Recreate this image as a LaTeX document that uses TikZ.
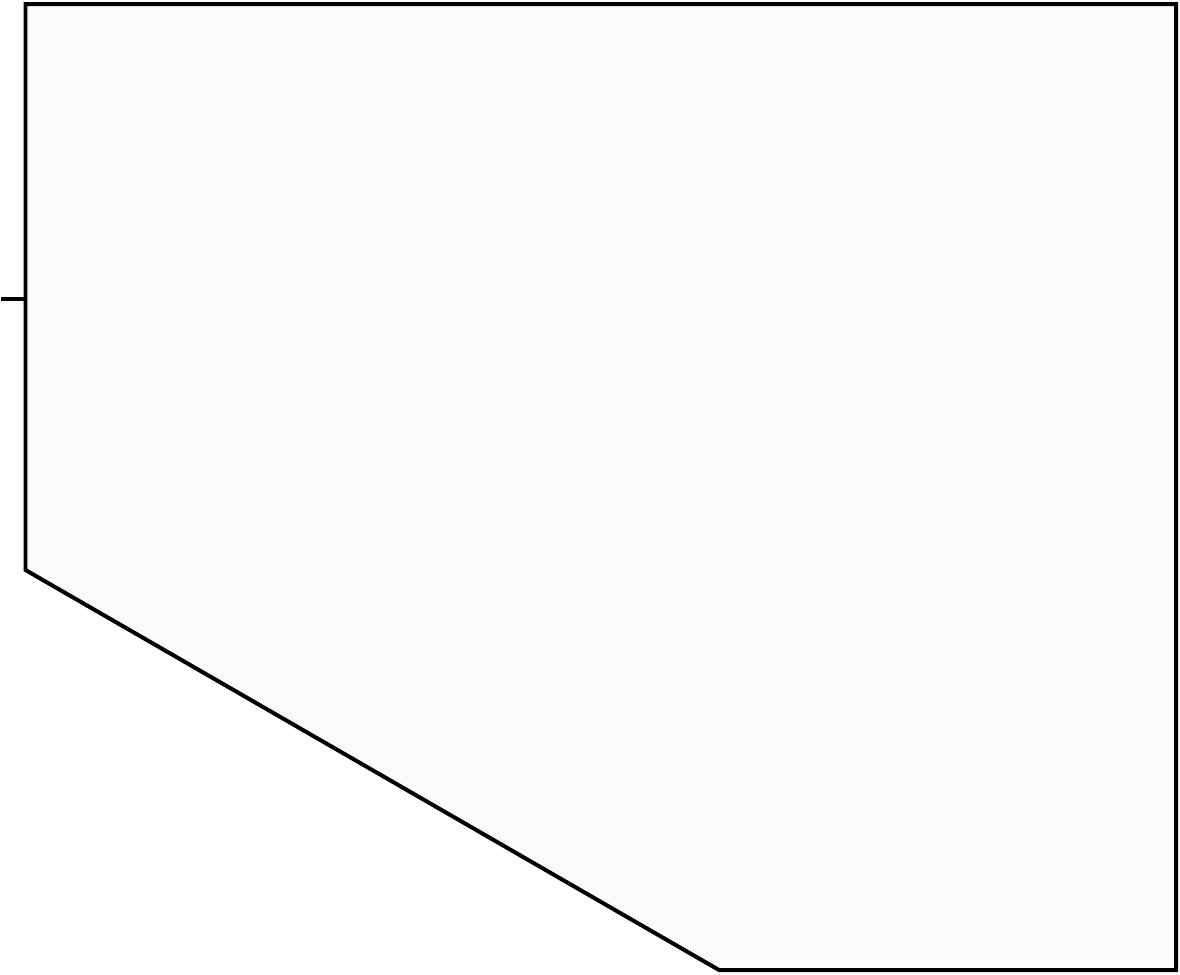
\documentclass[tikz,border=0pt]{standalone}
\usepackage{tikz}
\usetikzlibrary{positioning}
\tikzset{
outline/.style = {draw=black, line width=0.08cm, line join=miter},
body/.style = {outline, fill=black!2}
}
\begin{document}
\begin{tikzpicture}[x=0.02cm, y=-0.02cm]
        \useasboundingbox (0,0) rectangle (1180,974);
        
        \coordinate (tl) at (25.5,4);
        \coordinate (tr) at (1176,4);
        \coordinate (br) at (1176,970);
        \coordinate (bm) at (719,970);
        \coordinate (bl) at (25.5,570);
        \coordinate (port) at (25.5,298.5);
        \coordinate (portend) at (1,298.5);
        
        \draw[body] (tl) -- (tr) -- (br) -- (bm) -- (bl) -- cycle;
        \draw[outline] (portend) -- (port);
        \end{tikzpicture}
\end{document}
